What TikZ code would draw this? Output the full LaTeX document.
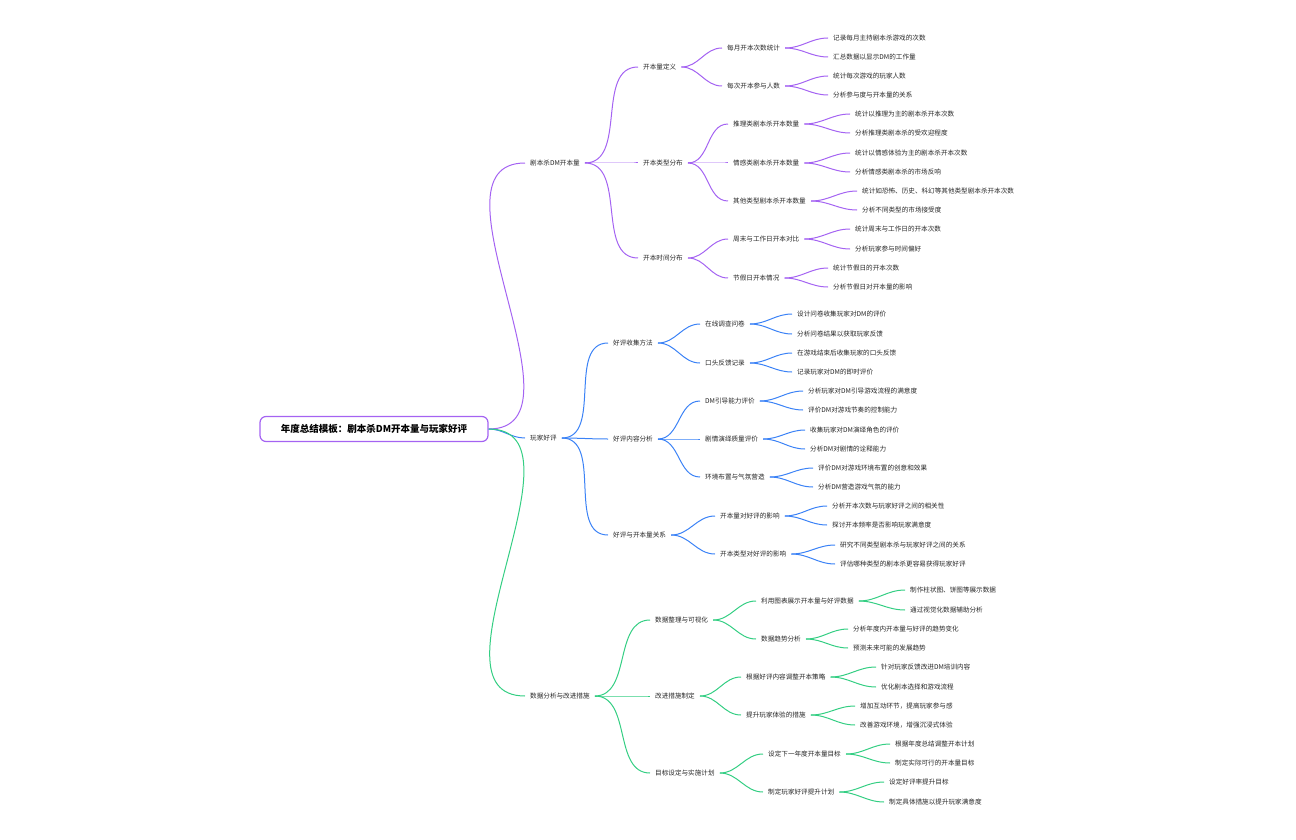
\documentclass[tikz,border=0pt]{standalone}
\usepackage{fontspec}
\setmainfont{Noto Sans CJK SC}
\begin{document}
\begin{tikzpicture}[x=1pt,y=1pt,
 t/.style={inner xsep=5pt,inner ysep=1pt,font=\fontsize{6.6}{7}\selectfont,text=black!85},
 P/.style={draw=pc,line width=1pt},
 B/.style={draw=bc,line width=1pt},
 G/.style={draw=gc,line width=1pt}]
\definecolor{pc}{HTML}{A463F2}
\definecolor{bc}{HTML}{3B82F6}
\definecolor{gc}{HTML}{34CE83}
\useasboundingbox (0,0) rectangle (1296,-840);
\newcommand\NN[4]{\node[t,anchor=west] (#1) at (#2-5,-#3) {#4};}
\newcommand\LK[3]{\draw[#1] (#2.east) to[out=0,in=180] (#3.west);}
\node[draw=pc,line width=1.2pt,rounded corners=6pt,minimum width=228pt,minimum height=25pt,font=\fontsize{9.5}{10}\selectfont\bfseries] (r) at (374,-429) {年度总结模板：剧本杀DM开本量与玩家好评};
% L1
\NN{a}{530}{163}{剧本杀DM开本量}
\NN{b}{530}{438}{玩家好评}
\NN{c}{530}{696}{数据分析与改进措施}
\draw[P] (r.east) to[out=0,in=180] (a.west);
\draw[B] (r.east) to[out=0,in=180] (b.west);
\draw[G] (r.east) to[out=0,in=180] (c.west);
% purple
\NN{a1}{643}{67}{开本量定义}
\NN{a2}{643}{163}{开本类型分布}
\NN{a3}{643}{258}{开本时间分布}
\foreach \i in {a1,a2,a3}{\LK{P}{a}{\i}}
\NN{a11}{727}{48}{每月开本次数统计}
\NN{a12}{727}{86}{每次开本参与人数}
\NN{a21}{733}{124}{推理类剧本杀开本数量}
\NN{a22}{733}{163}{情感类剧本杀开本数量}
\NN{a23}{733}{201}{其他类型剧本杀开本数量}
\NN{a31}{733}{239}{周末与工作日开本对比}
\NN{a32}{733}{278}{节假日开本情况}
\LK{P}{a1}{a11}\LK{P}{a1}{a12}
\LK{P}{a2}{a21}\LK{P}{a2}{a22}\LK{P}{a2}{a23}
\LK{P}{a3}{a31}\LK{P}{a3}{a32}
\NN{x1}{833}{38}{记录每月主持剧本杀游戏的次数}
\NN{x2}{833}{57}{汇总数据以显示DM的工作量}
\NN{x3}{833}{76}{统计每次游戏的玩家人数}
\NN{x4}{833}{95}{分析参与度与开本量的关系}
\NN{x5}{855}{114}{统计以推理为主的剧本杀开本次数}
\NN{x6}{855}{133}{分析推理类剧本杀的受欢迎程度}
\NN{x7}{855}{153}{统计以情感体验为主的剧本杀开本次数}
\NN{x8}{855}{172}{分析情感类剧本杀的市场反响}
\NN{x9}{862}{191}{统计如恐怖、历史、科幻等其他类型剧本杀开本次数}
\NN{x10}{862}{210}{分析不同类型的市场接受度}
\NN{x11}{855}{229}{统计周末与工作日的开本次数}
\NN{x12}{855}{249}{分析玩家参与时间偏好}
\NN{x13}{833}{268}{统计节假日的开本次数}
\NN{x14}{833}{287}{分析节假日对开本量的影响}
\LK{P}{a11}{x1}\LK{P}{a11}{x2}\LK{P}{a12}{x3}\LK{P}{a12}{x4}
\LK{P}{a21}{x5}\LK{P}{a21}{x6}\LK{P}{a22}{x7}\LK{P}{a22}{x8}
\LK{P}{a23}{x9}\LK{P}{a23}{x10}\LK{P}{a31}{x11}\LK{P}{a31}{x12}
\LK{P}{a32}{x13}\LK{P}{a32}{x14}
% blue
\NN{b1}{613}{343}{好评收集方法}
\NN{b2}{613}{439}{好评内容分析}
\NN{b3}{613}{535}{好评与开本量关系}
\LK{B}{b}{b1}\LK{B}{b}{b2}\LK{B}{b}{b3}
\NN{b11}{705}{324}{在线调查问卷}
\NN{b12}{705}{363}{口头反馈记录}
\NN{b21}{705}{401}{DM引导能力评价}
\NN{b22}{705}{439}{剧情演绎质量评价}
\NN{b23}{705}{477}{环境布置与气氛营造}
\NN{b31}{720}{516}{开本量对好评的影响}
\NN{b32}{720}{554}{开本类型对好评的影响}
\LK{B}{b1}{b11}\LK{B}{b1}{b12}
\LK{B}{b2}{b21}\LK{B}{b2}{b22}\LK{B}{b2}{b23}
\LK{B}{b3}{b31}\LK{B}{b3}{b32}
\NN{y1}{797}{314}{设计问卷收集玩家对DM的评价}
\NN{y2}{797}{334}{分析问卷结果以获取玩家反馈}
\NN{y3}{797}{353}{在游戏结束后收集玩家的口头反馈}
\NN{y4}{797}{372}{记录玩家对DM的即时评价}
\NN{y5}{808}{391}{分析玩家对DM引导游戏流程的满意度}
\NN{y6}{808}{410}{评价DM对游戏节奏的控制能力}
\NN{y7}{810}{430}{收集玩家对DM演绎角色的评价}
\NN{y8}{810}{449}{分析DM对剧情的诠释能力}
\NN{y9}{818}{468}{评价DM对游戏环境布置的创意和效果}
\NN{y10}{818}{487}{分析DM营造游戏气氛的能力}
\NN{y11}{832}{506}{分析开本次数与玩家好评之间的相关性}
\NN{y12}{832}{525}{探讨开本频率是否影响玩家满意度}
\NN{y13}{840}{545}{研究不同类型剧本杀与玩家好评之间的关系}
\NN{y14}{840}{564}{评估哪种类型的剧本杀更容易获得玩家好评}
\LK{B}{b11}{y1}\LK{B}{b11}{y2}\LK{B}{b12}{y3}\LK{B}{b12}{y4}
\LK{B}{b21}{y5}\LK{B}{b21}{y6}\LK{B}{b22}{y7}\LK{B}{b22}{y8}
\LK{B}{b23}{y9}\LK{B}{b23}{y10}\LK{B}{b31}{y11}\LK{B}{b31}{y12}
\LK{B}{b32}{y13}\LK{B}{b32}{y14}
% green
\NN{c1}{655}{620}{数据整理与可视化}
\NN{c2}{655}{696}{改进措施制定}
\NN{c3}{655}{773}{目标设定与实施计划}
\LK{G}{c}{c1}\LK{G}{c}{c2}\LK{G}{c}{c3}
\NN{c11}{761}{601}{利用图表展示开本量与好评数据}
\NN{c12}{761}{639}{数据趋势分析}
\NN{c21}{746}{677}{根据好评内容调整开本策略}
\NN{c22}{746}{715}{提升玩家体验的措施}
\NN{c31}{768}{754}{设定下一年度开本量目标}
\NN{c32}{768}{792}{制定玩家好评提升计划}
\LK{G}{c1}{c11}\LK{G}{c1}{c12}\LK{G}{c2}{c21}\LK{G}{c2}{c22}
\LK{G}{c3}{c31}\LK{G}{c3}{c32}
\NN{z1}{910}{590}{制作柱状图、饼图等展示数据}
\NN{z2}{910}{610}{通过视觉化数据辅助分析}
\NN{z3}{853}{629}{分析年度内开本量与好评的趋势变化}
\NN{z4}{853}{648}{预测未来可能的发展趋势}
\NN{z5}{881}{667}{针对玩家反馈改进DM培训内容}
\NN{z6}{881}{687}{优化剧本选择和游戏流程}
\NN{z7}{860}{706}{增加互动环节，提高玩家参与感}
\NN{z8}{860}{725}{改善游戏环境，增强沉浸式体验}
\NN{z9}{895}{744}{根据年度总结调整开本计划}
\NN{z10}{895}{763}{制定实际可行的开本量目标}
\NN{z11}{889}{782}{设定好评率提升目标}
\NN{z12}{889}{802}{制定具体措施以提升玩家满意度}
\LK{G}{c11}{z1}\LK{G}{c11}{z2}\LK{G}{c12}{z3}\LK{G}{c12}{z4}
\LK{G}{c21}{z5}\LK{G}{c21}{z6}\LK{G}{c22}{z7}\LK{G}{c22}{z8}
\LK{G}{c31}{z9}\LK{G}{c31}{z10}\LK{G}{c32}{z11}\LK{G}{c32}{z12}
\end{tikzpicture}
\end{document}
